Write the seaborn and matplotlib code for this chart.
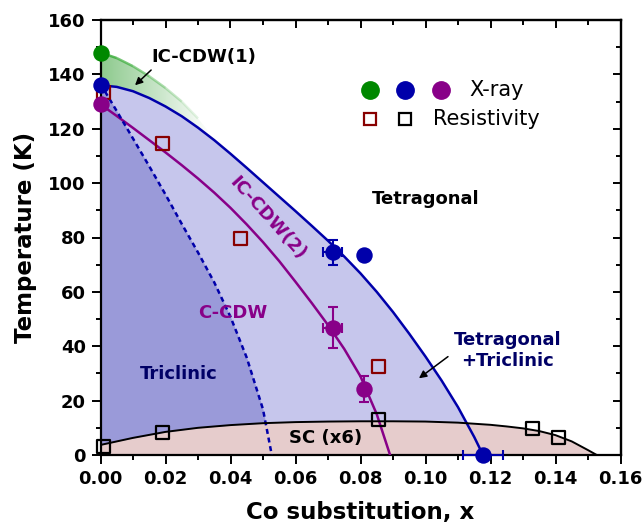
import numpy as np
import pandas as pd
import seaborn as sns
import matplotlib.pyplot as plt
from matplotlib.ticker import MultipleLocator
from matplotlib.collections import LineCollection
from matplotlib.colors import to_rgb

# ---- data ----
# X-ray transition points (x, T)
xray_green_x = [0.0]
xray_green_T = [148]
xray_blue_x = [0.0, 0.0714, 0.0812, 0.1177]
xray_blue_T = [136, 74.5, 73.7, 0]
xray_purple_x = [0.0, 0.0714, 0.0812]
xray_purple_T = [129, 46.8, 24.3]

# error bars
err_blue_x = [0.0714, 0.1177]
err_blue_T = [74.5, 0]
err_blue_dx = [0.0028, 0.0062]
err_blue_dT = [4.7, 0]
err_purple_x = [0.0714]
err_purple_T = [46.8]
err_purple_dx = [0.0028]
err_purple_dT = [7.5]
err_purple2_x = [0.0812]
err_purple2_T = [24.3]
err_purple2_dT = [4.7]

# resistivity points
res_red_x = [0.001, 0.019, 0.043, 0.0856]
res_red_T = [133.5, 114.7, 79.8, 32.7]
res_black_x = [0.001, 0.019, 0.0856, 0.1328, 0.141]
res_black_T = [3.2, 8.2, 12.9, 9.8, 6.4]

# phase boundaries
tet_x = [0.0, 0.005, 0.01, 0.015, 0.02, 0.025, 0.03, 0.035, 0.04, 0.045, 0.05, 0.055, 0.06,
         0.065, 0.07, 0.075, 0.08, 0.085, 0.09, 0.095, 0.10, 0.105, 0.11, 0.115, 0.1177]
tet_T = [136, 135.4, 133.8, 131.3, 128.2, 124.6, 120.4, 115.8, 110.8, 105.6, 100.3, 95.0, 89.7,
         84.3, 78.8, 73.0, 66.8, 60.0, 52.6, 44.6, 36.2, 27.3, 17.6, 6.6, 0]

icdw2_x = [0.0, 0.005, 0.01, 0.015, 0.02, 0.025, 0.03, 0.035, 0.04, 0.045, 0.05, 0.055, 0.06,
           0.065, 0.07, 0.075, 0.08, 0.085, 0.0891]
icdw2_T = [129, 124.7, 120.3, 115.8, 111.3, 106.6, 101.7, 96.5, 90.9, 84.8, 78.3, 71.3, 63.7,
           55.9, 47.8, 39.0, 28.9, 15.0, 0]

tric_x = [0.0, 0.005, 0.01, 0.015, 0.02, 0.025, 0.03, 0.035, 0.04, 0.045, 0.05, 0.0527]
tric_T = [136.5, 126.5, 116.4, 106.2, 95.8, 85.0, 74.5, 63.5, 50.8, 35.8, 16.8, 0]

icdw1_x = [0.0, 0.005, 0.01, 0.015, 0.02, 0.025, 0.03, 0.033]
icdw1_T = [148, 146, 143, 139.3, 135, 130, 123.8, 119.5]

sc_x = [0.0, 0.01, 0.02, 0.03, 0.04, 0.05, 0.06, 0.07, 0.08, 0.09, 0.10, 0.105, 0.11, 0.115,
        0.12, 0.125, 0.13, 0.135, 0.14, 0.145, 0.15, 0.1527]
sc_T = [3.7, 6.3, 8.5, 10.0, 11.0, 11.7, 12.1, 12.3, 12.4, 12.4, 12.3, 12.1, 11.9, 11.5,
        11.1, 10.5, 9.8, 8.8, 7.3, 5.0, 1.8, 0]

blue = '#0000aa'
purple = '#880088'
green = '#008800'
dred = '#880000'
navy = '#000066'

sns.set_theme(style='ticks')
plt.rcParams['font.family'] = ['DejaVu Sans']
plt.rcParams['text.color'] = 'black'
plt.rcParams['axes.labelcolor'] = 'black'
plt.rcParams['xtick.color'] = 'black'
plt.rcParams['ytick.color'] = 'black'

fig = plt.figure(figsize=(6.44, 5.27), dpi=100)
ax = fig.add_axes([100.5 / 644, 1 - 455 / 527, 520 / 644, 435 / 527])

# phase regions
ax.fill_between(tet_x, 0, tet_T, color='#c6c6ec', lw=0, zorder=1)
ax.fill_between(tric_x, 0, tric_T, color='#9a9ad9', lw=0, zorder=1.1)
ax.fill_between(sc_x, 0, sc_T, color='#e6cccc', lw=0, zorder=1.2)

# IC-CDW(1) fading green region
tet_on_g = np.interp(icdw1_x, tet_x, tet_T)
poly = ax.fill_between(icdw1_x, tet_on_g, icdw1_T, facecolor='none', lw=0)
grad = np.zeros((2, 256, 4))
grad[..., :3] = to_rgb(green)
grad[..., 3] = np.linspace(0.45, 0.0, 256)
im = ax.imshow(grad, extent=[0, 0.034, 110, 150], aspect='auto', origin='lower', zorder=1.3)
im.set_clip_path(poly.get_paths()[0], transform=ax.transData)

# green fading boundary line
gx = np.array(icdw1_x)
gT = np.array(icdw1_T)
segs = [[(gx[i], gT[i]), (gx[i + 1], gT[i + 1])] for i in range(len(gx) - 1)]
alphas = np.linspace(0.8, 0.0, len(segs))
lc = LineCollection(segs, colors=[(*to_rgb('#33aa33'), a) for a in alphas], linewidths=1.8, zorder=2)
ax.add_collection(lc)

# boundary lines
sns.lineplot(x=tet_x, y=tet_T, color=blue, lw=1.8, sort=False, ax=ax, zorder=3)
sns.lineplot(x=icdw2_x, y=icdw2_T, color=purple, lw=1.8, sort=False, ax=ax, zorder=3)
sns.lineplot(x=tric_x, y=tric_T, color=blue, lw=1.8, ls=(0, (2, 1.5)), sort=False, ax=ax, zorder=3)
sns.lineplot(x=sc_x, y=sc_T, color='black', lw=1.4, sort=False, ax=ax, zorder=3)

# error bars
ax.errorbar(err_blue_x, err_blue_T, xerr=err_blue_dx, yerr=err_blue_dT, fmt='none',
            ecolor=blue, elinewidth=1.5, capsize=3.5, capthick=1.5, zorder=4, clip_on=False)
ax.errorbar(err_purple_x, err_purple_T, xerr=err_purple_dx, yerr=err_purple_dT, fmt='none',
            ecolor=purple, elinewidth=1.5, capsize=3.5, capthick=1.5, zorder=4)
ax.errorbar(err_purple2_x, err_purple2_T, yerr=err_purple2_dT, fmt='none',
            ecolor=purple, elinewidth=1.5, capsize=3.5, capthick=1.5, zorder=4)

# resistivity squares
for xs, ts, c in [(res_red_x, res_red_T, dred), (res_black_x, res_black_T, 'black')]:
    sns.scatterplot(x=xs, y=ts, marker='s', s=88, facecolor='none', edgecolor=c,
                    linewidth=1.6, ax=ax, zorder=5)
# x-ray circles
for xs, ts, c in [(xray_green_x, xray_green_T, green), (xray_blue_x, xray_blue_T, blue),
                  (xray_purple_x, xray_purple_T, purple)]:
    sns.scatterplot(x=xs, y=ts, color=c, s=140, linewidth=0, ax=ax, zorder=6)
for coll in ax.collections:
    coll.set_clip_on(False)

ax.set_xlim(0, 0.16)
ax.set_ylim(0, 160)

# legend (manual layout)
for px, c in zip([0.518, 0.586, 0.655], [green, blue, purple]):
    ax.plot(px, 0.839, 'o', ms=12.5, color=c, transform=ax.transAxes, zorder=7)
for px, c in zip([0.518, 0.586], [dred, 'black']):
    ax.plot(px, 0.772, 's', ms=9, mfc='white', mec=c, mew=1.6, transform=ax.transAxes, zorder=7)
ax.text(0.709, 0.839, 'X-ray', fontsize=15, va='center', ha='left', transform=ax.transAxes)
ax.text(0.639, 0.772, 'Resistivity', fontsize=15, va='center', ha='left', transform=ax.transAxes)

# annotations
fs = 13
ax.text(0.0318, 146.4, 'IC-CDW(1)', fontsize=fs, fontweight='bold', ha='center', va='center')
ax.annotate('', xy=(0.0100, 135.3), xytext=(0.0162, 142.3),
            arrowprops=dict(arrowstyle='-|>', color='black', lw=1.1, mutation_scale=11))
ax.text(0.1002, 94.2, 'Tetragonal', fontsize=fs, fontweight='bold', ha='center', va='center')
ax.text(0.0515, 87.2, 'IC-CDW(2)', fontsize=fs, fontweight='bold', color=purple,
        ha='center', va='center', rotation=-48, rotation_mode='anchor')
ax.text(0.0406, 52.1, 'C-CDW', fontsize=fs, fontweight='bold', color=purple, ha='center', va='center')
ax.text(0.0242, 29.8, 'Triclinic', fontsize=fs, fontweight='bold', color=navy, ha='center', va='center')
ax.text(0.1252, 38.4, 'Tetragonal\n+Triclinic', fontsize=fs, fontweight='bold', color=navy,
        ha='center', va='center', multialignment='center')
ax.annotate('', xy=(0.0973, 27.6), xytext=(0.1076, 36.8),
            arrowprops=dict(arrowstyle='-|>', color='black', lw=1.1, mutation_scale=11))
ax.text(0.0693, 6.1, 'SC (x6)', fontsize=fs, fontweight='bold', ha='center', va='center')

# axes styling
for s in ax.spines.values():
    s.set_linewidth(1.6)
    s.set_color('black')
ax.xaxis.set_major_locator(MultipleLocator(0.02))
ax.xaxis.set_minor_locator(MultipleLocator(0.01))
ax.yaxis.set_major_locator(MultipleLocator(20))
ax.yaxis.set_minor_locator(MultipleLocator(10))
ax.set_xticks(np.arange(0, 0.161, 0.02))
ax.set_xticklabels([f'{v:.2f}' for v in np.arange(0, 0.161, 0.02)])
ax.tick_params(which='major', direction='out', length=6.5, width=1.4, color='black', labelsize=13, pad=4)
ax.tick_params(which='minor', direction='out', length=3.6, width=1.4, color='black')
for lbl in ax.get_xticklabels() + ax.get_yticklabels():
    lbl.set_fontweight('bold')

secx = ax.secondary_xaxis('top')
secx.xaxis.set_major_locator(MultipleLocator(0.02))
secx.xaxis.set_minor_locator(MultipleLocator(0.01))
secx.tick_params(which='major', direction='in', length=6, width=1.4, labeltop=False)
secx.tick_params(which='minor', direction='in', length=3.6, width=1.4)
secx.spines['top'].set_linewidth(1.6)
secy = ax.secondary_yaxis('right')
secy.yaxis.set_major_locator(MultipleLocator(20))
secy.yaxis.set_minor_locator(MultipleLocator(10))
secy.tick_params(which='major', direction='in', length=6, width=1.4, labelright=False)
secy.tick_params(which='minor', direction='in', length=3.6, width=1.4)
secy.spines['right'].set_linewidth(1.6)

ax.set_xlabel('Co substitution, x', fontsize=16.5, fontweight='bold', labelpad=10)
ax.set_ylabel('Temperature (K)', fontsize=16.5, fontweight='bold', labelpad=8)

fig.savefig('out.png', dpi=100)
